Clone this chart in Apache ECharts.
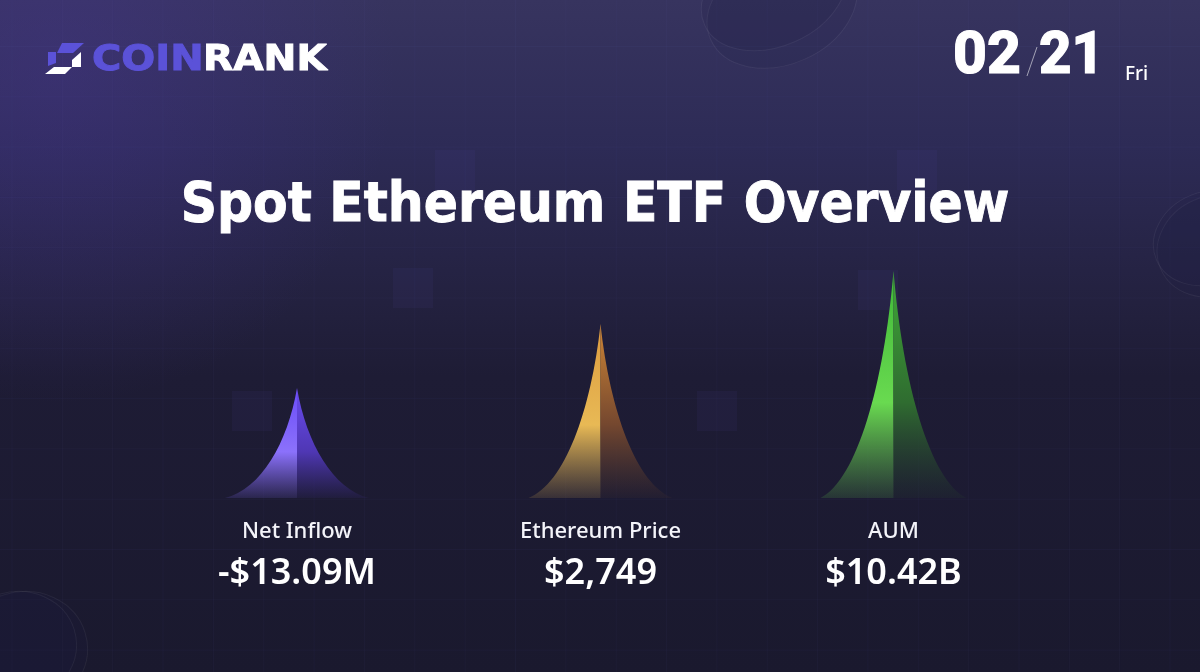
<!DOCTYPE html>
<html><head><meta charset="utf-8">
<style>html,body{margin:0;padding:0;background:#1b1a2f}#c{width:1200px;height:672px}</style>
<script src="https://cdn.jsdelivr.net/npm/echarts@6/dist/echarts.min.js"></script>
</head><body><div id="c"></div>
<script>
const categories = ['Net Inflow', 'Ethereum Price', 'AUM'];
const valueLabels = ['-$13.09M', '$2,749', '$10.42B'];
const spikeHeights = [110, 174, 227];
const centers = [297, 600.5, 893.5];
const spikeWidths = [144, 144, 146];
const leftColors = [
  ['#6a4cf8', '#8b71fb', 'rgba(130,105,245,0.14)'],
  ['#dd9b3f', '#e8b955', 'rgba(200,160,80,0.16)'],
  ['#3fb838', '#69da50', 'rgba(95,190,75,0.16)']
];
const rightColors = [
  ['#6a4cf0', '#4f37b4', 'rgba(70,50,160,0.10)'],
  ['#cf8636', '#74472f', 'rgba(90,60,45,0.10)'],
  ['#3fa837', '#2f6c30', 'rgba(40,70,45,0.14)']
];
const LEFT_SPIKE = 'path://M100 0C87 50 50 92 0 100L100 100Z';
const RIGHT_SPIKE = 'path://M0 0C13 50 50 92 100 100L0 100Z';
const AXIS_MAX = 261, GRID_TOP = 237, GRID_H = 261;

function grad(c, mid) {
  return new echarts.graphic.LinearGradient(0, 0, 0, 1, [
    {offset: 0, color: c[0]}, {offset: mid, color: c[1]}, {offset: 1, color: c[2]}
  ]);
}
const grids = [], xAxes = [], yAxes = [], series = [];
categories.forEach((cat, i) => {
  grids.push({left: centers[i] - 110, width: 220, top: GRID_TOP, height: GRID_H});
  xAxes.push({
    type: 'category', gridIndex: i, data: [cat],
    axisLine: {show: false}, axisTick: {show: false},
    axisLabel: {
      interval: 0, margin: 19, align: 'center', verticalAlign: 'top',
      formatter: (v) => '{a|' + v + '}\n{b|' + valueLabels[i] + '}',
      rich: {
        a: {fontFamily: 'Noto Sans', fontSize: 22, fontWeight: 500, color: '#f4f4fa', lineHeight: 30, align: 'center'},
        b: {fontFamily: 'Noto Sans', fontSize: 36, fontWeight: 600, color: '#ffffff', lineHeight: 54, align: 'center'}
      }
    }
  });
  yAxes.push({type: 'value', gridIndex: i, min: 0, max: AXIS_MAX, show: false});
  [[LEFT_SPIKE, leftColors[i], '-50%', 'left'], [RIGHT_SPIKE, rightColors[i], '50%', 'right']].forEach(s => {
    series.push({
      type: 'pictorialBar', name: cat + ' ' + s[3], xAxisIndex: i, yAxisIndex: i,
      barGap: '-100%', barWidth: '100%', silent: true, animation: false,
      symbol: s[0], symbolSize: [spikeWidths[i] / 2, '100%'], symbolOffset: [s[2], 0],
      symbolPosition: 'start',
      itemStyle: {color: grad(s[1], 0.58)},
      data: [spikeHeights[i]]
    });
  });
});

// decorative background
const gfx = [];
gfx.push({type: 'rect', z: -20, shape: {x: 0, y: 0, width: 1200, height: 672}, silent: true,
  style: {fill: new echarts.graphic.RadialGradient(0.05, 0.1, 0.5, [
    {offset: 0, color: 'rgba(72,52,150,0.36)'}, {offset: 1, color: 'rgba(72,52,150,0)'}])}});
for (let k = 0; k < 24; k++) {
  const x = 12 + k * 50.35;
  gfx.push({type: 'line', z: -18, silent: true, shape: {x1: x, y1: 0, x2: x, y2: 672}, style: {stroke: 'rgba(130,120,230,0.04)', lineWidth: 1}});
}
for (let k = 0; k < 13; k++) {
  const y = 46.5 + k * 50.3;
  gfx.push({type: 'line', z: -18, silent: true, shape: {x1: 0, y1: y, x2: 1200, y2: y}, style: {stroke: 'rgba(130,120,230,0.04)', lineWidth: 1}});
}
[[232, 391], [697, 391], [393, 268], [858, 270], [435, 150], [897, 150]].forEach(p => {
  gfx.push({type: 'rect', z: -17, silent: true, shape: {x: p[0], y: p[1], width: 40, height: 40}, style: {fill: 'rgba(110,100,210,0.055)'}});
});
function coin(cx, cy, rx, ry, rot) {
  gfx.push({type: 'ellipse', z: -16, silent: true, x: cx, y: cy, rotation: rot, shape: {cx: 0, cy: 0, rx, ry},
    style: {fill: 'rgba(30,28,70,0.16)', stroke: 'rgba(255,255,255,0.06)', lineWidth: 1}});
}
coin(782, 8, 78, 56, 0.42); coin(774, -6, 76, 52, 0.42);
coin(1214, 246, 58, 50, 0.4); coin(1208, 238, 56, 46, 0.4);
coin(22, 652, 66, 60, 0.3); coin(15, 648, 62, 56, 0.3);

// logo
[[[[62, 43], [84, 43], [73, 53], [57, 53]], '#5b52d8'],
 [[[48, 52], [56, 52], [56, 63], [48, 66]], '#5b52d8'],
 [[[72, 60], [81, 52], [81, 67], [72, 67]], '#ffffff'],
 [[[45, 74], [54, 67], [72, 67], [65, 74]], '#ffffff']].forEach(p => {
  gfx.push({type: 'polygon', silent: true, shape: {points: p[0]}, style: {fill: p[1]}});
});
function txt(t, x, y, font, fill, align, scaleX, sw) {
  gfx.push({type: 'text', silent: true, x, y, scaleX: scaleX || 1,
    style: {text: t, font, fill, align: align || 'left', verticalAlign: 'middle', stroke: sw ? fill : null, lineWidth: sw || 0}});
}
txt('COIN', 92, 61, '800 36px "DejaVu Sans"', '#5b52d8', 'left', 1.11, 1);
txt('RANK', 203, 61, '800 36px "DejaVu Sans"', '#ffffff', 'left', 1.09, 1);
txt('02', 953, 58, '800 60px Roboto', '#ffffff', 'left', 0.98, 1.2);
gfx.push({type: 'line', silent: true, shape: {x1: 1037, y1: 47, x2: 1027, y2: 76}, style: {stroke: 'rgba(255,255,255,0.55)', lineWidth: 1}});
txt('21', 1039, 58, '800 60px Roboto', '#ffffff', 'left', 0.94, 1.2);
txt('Fri', 1125, 75, '500 19px "Noto Sans"', '#ffffff');
txt('Spot Ethereum ETF Overview', 595, 206, '700 56px "DejaVu Sans"', '#ffffff', 'center', 0.9, 1);

const chart = echarts.init(document.getElementById('c'), null, {renderer: 'canvas'});
chart.setOption({
  animation: false,
  backgroundColor: new echarts.graphic.LinearGradient(0, 0, 0, 1, [
    {offset: 0, color: '#37345f'}, {offset: 0.22, color: '#2d2b56'},
    {offset: 0.45, color: '#23213f'}, {offset: 0.56, color: '#1e1c35'}, {offset: 1, color: '#1a192e'}
  ]),
  graphic: {elements: gfx},
  grid: grids, xAxis: xAxes, yAxis: yAxes, series
});
</script></body></html>
